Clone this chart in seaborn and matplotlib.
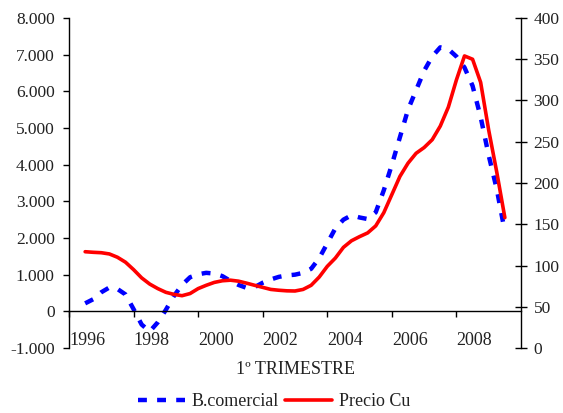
import numpy as np
import pandas as pd
import matplotlib
matplotlib.use("Agg")
import matplotlib.pyplot as plt
from matplotlib.ticker import FuncFormatter
import seaborn as sns

# quarterly observations, 1996 (mid-year) to 2009
first_year = 1996.5
n_quarters = 53

# B.comercial (left axis)
b_comercial = [218, 330, 520, 650, 610, 460, 60, -360, -550, -300,
               40, 420, 720, 930, 1010, 1050, 1030, 960, 830, 720,
               640, 660, 780, 870, 940, 980, 1000, 1050, 1160, 1450,
               1854, 2263, 2500, 2620, 2560, 2517, 2700, 3300, 4000, 4750,
               5500, 6030, 6560, 6950, 7200, 7150, 6950, 6650, 6150, 5300,
               4250, 3330, 2170]

# Precio Cu (right axis)
precio_cu = [116.7, 116, 115.5, 114, 110, 104, 95, 85, 77.5, 72,
             67.5, 65, 63.4, 66, 72, 76, 79.5, 81.5, 82.2, 81,
             78.6, 76, 73.5, 71, 70, 69.3, 69.1, 71, 76, 86,
             99, 109, 122, 130, 135, 139.5, 148, 164, 186, 208,
             224, 236, 243, 252.5, 269, 292, 325, 354, 350, 322,
             264, 213, 158]

year_ticks = [1996, 1998, 2000, 2002, 2004, 2006, 2008]

df = pd.DataFrame({
    "t": first_year + 0.25 * np.arange(n_quarters),
    "B.comercial": b_comercial,
    "Precio Cu": precio_cu,
})

sns.set_style("white")
plt.rcParams["font.family"] = ["Liberation Serif", "DejaVu Serif"]
plt.rcParams["font.size"] = 13
txt_color = "#222222"

fig = plt.figure(figsize=(5.63, 4.13), dpi=100)
ax = fig.add_axes([69 / 563, 1 - 348 / 413, (521 - 69) / 563, (348 - 18) / 413])
ax2 = ax.twinx()

sns.lineplot(data=df, x="t", y="B.comercial", ax=ax, color="#0000ff",
             linewidth=3.2, linestyle=(0, (2.0, 2.3)), label="B.comercial", legend=False)
sns.lineplot(data=df, x="t", y="Precio Cu", ax=ax2, color="#ff0000",
             linewidth=2.6, label="Precio Cu", legend=False)

# spines first: moving a spine resets the ticks
for s in ["top", "right"]:
    ax.spines[s].set_visible(False)
ax.spines["bottom"].set_position(("data", 0))
for s in ["top", "left", "bottom"]:
    ax2.spines[s].set_visible(False)
for a in (ax, ax2):
    for s in a.spines.values():
        s.set_color("black")
        s.set_linewidth(1)

ax.set_xlim(1996, 2010)
ax.set_ylim(-1000, 8000)
ax2.set_ylim(0, 400)

ax.set_yticks(np.arange(-1000, 8001, 1000))
ax.yaxis.set_major_formatter(FuncFormatter(lambda v, p: f"{int(v):,}".replace(",", ".")))
ax2.set_yticks(np.arange(0, 401, 50))

ax.set_xticks(year_ticks)
ax.set_xticklabels([str(y) for y in year_ticks])

ax.tick_params(axis="y", direction="out", length=4.3, width=1, pad=6, colors="black",
               labelcolor=txt_color, labelsize=12.5, left=True)
ax.tick_params(axis="x", direction="out", length=4, width=1, pad=11, colors="black",
               labelcolor=txt_color, labelsize=13, bottom=True)
ax2.tick_params(axis="y", direction="inout", length=8, width=1, pad=5, colors="black",
                labelcolor=txt_color, labelsize=12.5, right=True)

ax.set_xlabel("")
ax.set_ylabel("")
ax2.set_ylabel("")

fig.text(295 / 563, 1 - 370 / 413, "1º TRIMESTRE", ha="center", va="center",
         fontsize=13, color=txt_color)

h1 = ax.get_lines()[0]
h2 = ax2.get_lines()[0]
fig.legend([h1, h2], ["B.comercial", "Precio Cu"], loc="center",
           bbox_to_anchor=(274 / 563, 1 - 402 / 413), ncol=2, frameon=False,
           handlelength=2.6, handletextpad=0.4, columnspacing=0.3,
           fontsize=13, labelcolor=txt_color, borderaxespad=0)

fig.canvas.draw()
for lbl in ax.get_xticklabels():
    lbl.set_horizontalalignment("left")

fig.savefig("out.png", dpi=100)
